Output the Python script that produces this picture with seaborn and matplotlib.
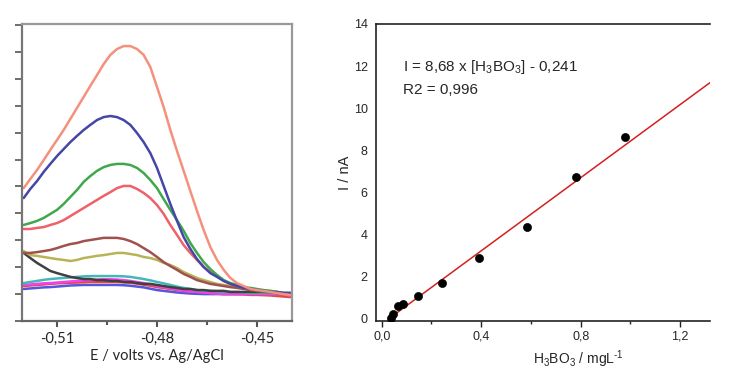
import numpy as np
import pandas as pd
import seaborn as sns
import matplotlib.pyplot as plt
from matplotlib.ticker import FuncFormatter, MultipleLocator

# potential grid (V vs Ag/AgCl)
potential = [-0.520, -0.518, -0.516, -0.514, -0.512, -0.510, -0.508, -0.506, -0.504, -0.502,
             -0.500, -0.498, -0.496, -0.494, -0.492, -0.490, -0.488, -0.486, -0.484, -0.482,
             -0.480, -0.478, -0.476, -0.474, -0.472, -0.470, -0.468, -0.466, -0.464, -0.462,
             -0.460, -0.458, -0.456, -0.454, -0.452, -0.450, -0.448, -0.446, -0.444, -0.442,
             -0.440]

# voltammograms (arbitrary current units)
salmon = [4.94, 5.28, 5.61, 5.98, 6.36, 6.73, 7.10, 7.51, 7.92, 8.33,
          8.74, 9.14, 9.55, 9.89, 10.11, 10.22, 10.22, 10.11, 9.89, 9.44,
          8.70, 7.95, 7.10, 6.32, 5.58, 4.83, 4.09, 3.38, 2.75, 2.27,
          1.90, 1.60, 1.41, 1.30, 1.19, 1.15, 1.12, 1.08, 1.04, 1.00, 0.97]
blue = [4.57, 4.91, 5.20, 5.54, 5.84, 6.13, 6.39, 6.65, 6.88, 7.10,
        7.29, 7.47, 7.58, 7.62, 7.58, 7.47, 7.29, 6.99, 6.65, 6.24,
        5.69, 5.02, 4.35, 3.72, 3.12, 2.68, 2.30, 2.01, 1.78, 1.64,
        1.49, 1.38, 1.30, 1.23, 1.19, 1.15, 1.12, 1.08, 1.08, 1.04, 1.04]
green = [3.57, 3.64, 3.72, 3.83, 3.98, 4.13, 4.35, 4.61, 4.87, 5.17,
         5.39, 5.58, 5.72, 5.80, 5.84, 5.84, 5.80, 5.69, 5.50, 5.24,
         4.94, 4.53, 4.13, 3.75, 3.35, 2.90, 2.53, 2.19, 1.93, 1.71,
         1.52, 1.41, 1.34, 1.26, 1.23, 1.19, 1.15, 1.12, 1.08, 1.04, 1.00]
red = [3.42, 3.42, 3.46, 3.49, 3.57, 3.64, 3.75, 3.90, 4.05, 4.20,
       4.35, 4.50, 4.65, 4.79, 4.94, 5.02, 5.02, 4.91, 4.76, 4.57,
       4.31, 3.98, 3.57, 3.20, 2.82, 2.53, 2.27, 2.01, 1.82, 1.67,
       1.49, 1.38, 1.30, 1.23, 1.19, 1.15, 1.12, 1.08, 1.04, 1.00, 0.93]
brown = [2.53, 2.53, 2.56, 2.60, 2.64, 2.71, 2.79, 2.86, 2.90, 2.97,
         3.01, 3.05, 3.09, 3.09, 3.09, 3.05, 2.97, 2.86, 2.71, 2.56,
         2.38, 2.19, 2.04, 1.90, 1.75, 1.64, 1.52, 1.45, 1.38, 1.34,
         1.30, 1.26, 1.23, 1.19, 1.15, 1.12, 1.08, 1.08, 1.04, 1.00, 0.97]
olive = [2.60, 2.45, 2.42, 2.38, 2.34, 2.30, 2.27, 2.23, 2.27, 2.34,
         2.38, 2.42, 2.45, 2.49, 2.53, 2.53, 2.49, 2.45, 2.38, 2.34,
         2.27, 2.16, 2.08, 1.97, 1.82, 1.71, 1.60, 1.52, 1.45, 1.38,
         1.34, 1.30, 1.26, 1.23, 1.19, 1.15, 1.12, 1.12, 1.08, 1.04, 1.00]
black = [2.53, 2.34, 2.16, 2.01, 1.86, 1.78, 1.71, 1.64, 1.60, 1.56,
         1.56, 1.52, 1.52, 1.49, 1.49, 1.45, 1.45, 1.41, 1.38, 1.38,
         1.34, 1.30, 1.26, 1.23, 1.19, 1.19, 1.15, 1.15, 1.12, 1.12,
         1.12, 1.08, 1.08, 1.08, 1.08, 1.08, 1.08, 1.08, 1.04, 1.04, 1.04]
teal = [1.41, 1.45, 1.49, 1.53, 1.56, 1.58, 1.60, 1.62, 1.64, 1.66,
        1.67, 1.67, 1.67, 1.67, 1.67, 1.66, 1.64, 1.60, 1.56, 1.51,
        1.45, 1.40, 1.34, 1.28, 1.23, 1.19, 1.15, 1.13, 1.12, 1.10,
        1.08, 1.08, 1.08, 1.06, 1.04, 1.04, 1.04, 1.04, 1.04, 1.04, 1.04]
magenta = [1.34, 1.36, 1.38, 1.40, 1.41, 1.43, 1.45, 1.47, 1.49, 1.51,
           1.52, 1.54, 1.55, 1.55, 1.54, 1.52, 1.49, 1.45, 1.41, 1.36,
           1.30, 1.26, 1.22, 1.17, 1.12, 1.10, 1.08, 1.06, 1.04, 1.02,
           1.00, 1.00, 1.00, 1.00, 1.00, 1.00, 1.00, 1.00, 1.00, 1.00, 1.00]
red_low = [1.30, 1.32, 1.34, 1.36, 1.38, 1.40, 1.41, 1.42, 1.43, 1.44,
           1.45, 1.45, 1.45, 1.45, 1.45, 1.44, 1.42, 1.39, 1.35, 1.31,
           1.26, 1.23, 1.19, 1.15, 1.12, 1.10, 1.08, 1.06, 1.04, 1.02,
           1.00, 1.00, 1.00, 0.99, 0.97, 0.97, 0.96, 0.95, 0.93, 0.91, 0.89]
blue_low = [1.19, 1.21, 1.23, 1.25, 1.26, 1.28, 1.30, 1.32, 1.33, 1.34,
            1.34, 1.34, 1.34, 1.34, 1.34, 1.33, 1.31, 1.28, 1.25, 1.20,
            1.15, 1.12, 1.09, 1.06, 1.04, 1.02, 1.01, 1.00, 1.00, 1.00,
            1.00, 1.00, 1.00, 1.00, 1.00, 1.00, 1.00, 1.00, 1.00, 1.00, 1.00]

# calibration data
conc = [0.037, 0.047, 0.067, 0.087, 0.146, 0.243, 0.391, 0.586, 0.782, 0.977]
current = [0.05, 0.22, 0.62, 0.73, 1.07, 1.69, 2.90, 4.34, 6.74, 8.62]
slope, intercept = 8.68, -0.241

curves = {
    "blue_low": (blue_low, "#5555dd"),
    "red_low": (red_low, "#e04848"),
    "magenta": (magenta, "#ee44ee"),
    "teal": (teal, "#44b8b8"),
    "black": (black, "#404040"),
    "olive": (olive, "#b8b455"),
    "brown": (brown, "#a0504e"),
    "red": (red, "#f06068"),
    "green": (green, "#3fa84a"),
    "blue": (blue, "#4646a8"),
    "salmon": (salmon, "#f4907c"),
}

rows = []
for name, (vals, _) in curves.items():
    for e, i in zip(potential, vals):
        rows.append({"E": e, "I": i, "curve": name})
df_cv = pd.DataFrame(rows)
palette = {k: v[1] for k, v in curves.items()}

sns.set_style("white")
plt.rcParams["font.family"] = ["Lato", "DejaVu Sans"]
plt.rcParams["mathtext.fontset"] = "custom"
plt.rcParams["mathtext.rm"] = "Liberation Sans"
plt.rcParams["mathtext.it"] = "Liberation Sans:italic"
plt.rcParams["axes.unicode_minus"] = False

fig = plt.figure(figsize=(7.53, 3.81), dpi=100)
ax1 = fig.add_axes([22 / 753, 1 - 321 / 381, 270 / 753, 297 / 381])
ax2 = fig.add_axes([376 / 753, 1 - 321 / 381, 334 / 753, 297 / 381])

# -----------------------------
# Left: voltammograms
# -----------------------------
sns.lineplot(data=df_cv, x="E", y="I", hue="curve", palette=palette,
             sort=False, legend=False, linewidth=1.8, ax=ax1)
ax1.set_xlim(-0.5205, -0.4395)
ax1.set_ylim(0, 11.04)
ax1.xaxis.set_major_locator(MultipleLocator(0.03))
ax1.xaxis.set_minor_locator(MultipleLocator(0.015))
ax1.xaxis.set_major_formatter(FuncFormatter(lambda v, p: ("%.2f" % v).replace(".", ",")))
ax1.yaxis.set_major_locator(MultipleLocator(1))
ax1.set_yticklabels([])
ax1.tick_params(axis="x", which="major", direction="out", length=4, width=1.5,
                color="#555555", labelsize=10.5, pad=4, bottom=True)
ax1.tick_params(axis="x", which="minor", direction="out", length=3, width=1.5,
                color="#555555", bottom=True)
ax1.tick_params(axis="y", direction="out", length=5, width=1.2, color="#555555", left=True)
ax1.set_xlabel("E / volts vs. Ag/AgCl", fontsize=10.5, labelpad=2)
ax1.set_ylabel("")
for side, col in [("left", "#777777"), ("bottom", "#666666"), ("top", "#999999"), ("right", "#999999")]:
    ax1.spines[side].set_color(col)
    ax1.spines[side].set_linewidth(1.6)

# -----------------------------
# Right: calibration curve
# -----------------------------
fit_x = [conc[0], 1.32]
fit_y = [slope * x + intercept for x in fit_x]
sns.lineplot(x=fit_x, y=fit_y, color="#d42020", linewidth=1.1, ax=ax2)
sns.scatterplot(x=conc, y=current, color="black", s=34, edgecolor="black", zorder=3, ax=ax2)
ax2.set_xlim(-0.023, 1.32)
ax2.set_ylim(-0.1, 14)
ax2.xaxis.set_major_locator(MultipleLocator(0.4))
ax2.xaxis.set_minor_locator(MultipleLocator(0.2))
ax2.xaxis.set_major_formatter(FuncFormatter(lambda v, p: ("%.1f" % v).replace(".", ",")))
ax2.yaxis.set_major_locator(MultipleLocator(2))
ax2.yaxis.set_major_formatter(FuncFormatter(lambda v, p: "%d" % v))
for lab in ax2.get_xticklabels() + ax2.get_yticklabels():
    lab.set_family("Liberation Sans")
ax2.tick_params(axis="x", which="major", direction="out", length=4, width=1,
                color="#222222", labelsize=9, pad=3, bottom=True)
ax2.tick_params(axis="x", which="minor", direction="out", length=2.5, width=1,
                color="#222222", bottom=True)
ax2.tick_params(axis="y", length=0, labelsize=9, pad=6)
ax2.set_xlabel("H$_3$BO$_3$ / mgL$^{\\text{-}1}$", fontsize=10, family="Liberation Sans")
ax2.xaxis.set_label_coords(0.605, -0.092)
ax2.set_ylabel("I / nA", fontsize=10.5, family="Liberation Sans", labelpad=1)
ax2.spines["right"].set_visible(False)
for side in ["left", "bottom", "top"]:
    ax2.spines[side].set_color("#222222")
    ax2.spines[side].set_linewidth(1.2)

ax2.text(0.085, 11.98, "I = 8,68 x [H$_3$BO$_3$] - 0,241", fontsize=11,
         family="Liberation Sans", va="center", ha="left")
ax2.text(0.085, 10.88, "R2 = 0,996", fontsize=11, family="Liberation Sans",
         va="center", ha="left")

fig.savefig("out.png", dpi=100)
